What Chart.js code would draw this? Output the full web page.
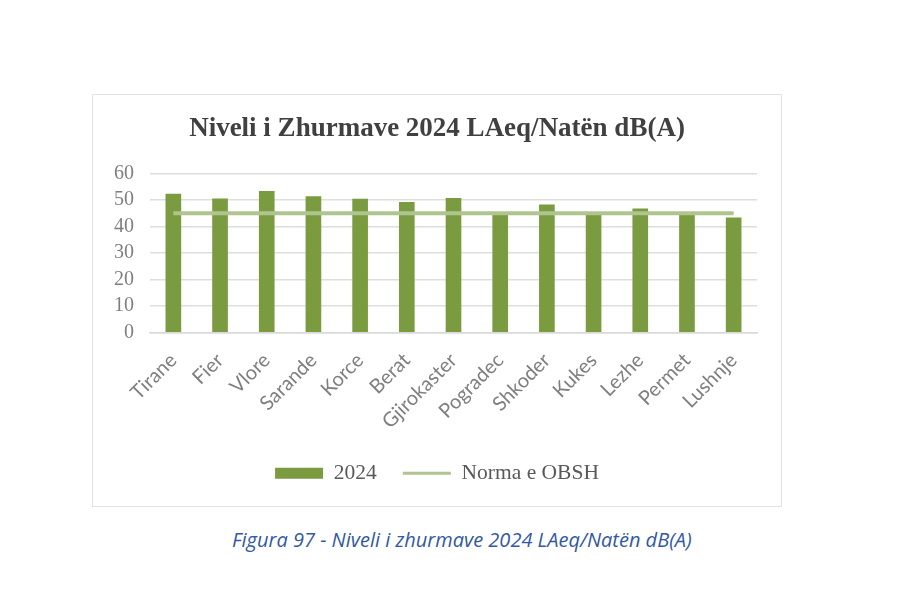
<!DOCTYPE html>
<html>
<head>
<meta charset="utf-8">
<script src="https://cdn.jsdelivr.net/npm/chart.js@4"></script>
<style>
    body { margin: 0; background: #fff; width: 900px; height: 599px; position: relative; overflow: hidden; }
    #box { position: absolute; left: 92px; top: 94px; width: 690px; height: 413px; border: 1px solid #e2e2e2; box-sizing: border-box; }
    #caption { position: absolute; left: 232px; top: 526px; font: italic 20px 'Open Sans', sans-serif; color: #3359a3; white-space: nowrap; }
</style>
</head>
<body>
<div id="box"><canvas id="noiseChart"></canvas></div>
<div id="caption">Figura 97 - Niveli i zhurmave 2024 LAeq/Natën dB(A)</div>

<script>
// --- DATA ---
const cities = ['Tirane', 'Fier', 'Vlore', 'Sarande', 'Korce', 'Berat', 'Gjirokaster',
    'Pogradec', 'Shkoder', 'Kukes', 'Lezhe', 'Permet', 'Lushnje'];
const noise2024 = [52.2, 50.4, 53.2, 51.3, 50.3, 49.1, 50.6, 44.3, 48.1, 44.3, 46.6, 44.3, 43.2];
const normaOBSH = [45, 45, 45, 45, 45, 45, 45, 45, 45, 45, 45, 45, 45];
const yTicks = [0, 10, 20, 30, 40, 50, 60];

const BAR_COLOR = '#7a9b3f';
const LINE_COLOR = '#afc48f';
const SERIF = 'Liberation Serif';

const ctx = document.getElementById('noiseChart');
new Chart(ctx.getContext('2d'), {
    type: 'bar',
    data: {
        labels: cities,
        datasets: [
            {
                type: 'bar',
                label: '2024',
                data: noise2024,
                backgroundColor: BAR_COLOR,
                barThickness: 15,
                order: 2
            },
            {
                type: 'line',
                label: 'Norma e OBSH',
                data: normaOBSH,
                borderColor: LINE_COLOR,
                borderWidth: 4,
                pointRadius: 0,
                fill: false,
                order: 1
            }
        ]
    },
    options: {
        responsive: true,
        maintainAspectRatio: false,
        animation: false,
        layout: { padding: { bottom: 12 } },
        plugins: {
            title: {
                display: true,
                text: 'Niveli i Zhurmave 2024 LAeq/Natën dB(A)',
                color: '#404040',
                font: { family: SERIF, size: 27, weight: 'bold' },
                padding: { top: 18, bottom: 28 }
            },
            legend: {
                position: 'bottom',
                labels: {
                    usePointStyle: true,
                    pointStyleWidth: 48,
                    boxHeight: 11,
                    padding: 26,
                    color: '#595959',
                    font: { family: SERIF, size: 21.5 },
                    generateLabels: () => [
                        { text: '2024', fillStyle: BAR_COLOR, strokeStyle: BAR_COLOR, lineWidth: 0, pointStyle: 'rect', datasetIndex: 0, fontColor: '#595959' },
                        { text: 'Norma e OBSH', fillStyle: LINE_COLOR, strokeStyle: LINE_COLOR, lineWidth: 3, pointStyle: 'line', datasetIndex: 1, fontColor: '#595959' }
                    ]
                }
            },
            tooltip: { enabled: false }
        },
        scales: {
            x: {
                afterFit: (axis) => { axis.height = 104; },
                grid: { display: false },
                border: { color: '#d9d9d9', width: 1.5 },
                ticks: {
                    color: '#7f7f7f',
                    font: { family: 'Lato', size: 20 },
                    minRotation: 45,
                    maxRotation: 45,
                    autoSkip: false,
                    padding: 8
                }
            },
            y: {
                min: 0,
                max: 60,
                afterBuildTicks: (axis) => { axis.ticks = yTicks.map(v => ({ value: v })); },
                afterFit: (axis) => { axis.width = 57; },
                grid: { color: '#dedede', lineWidth: 1.5, drawTicks: false },
                border: { display: false },
                ticks: {
                    color: '#7f7f7f',
                    font: { family: SERIF, size: 20 },
                    autoSkip: false,
                    padding: 16
                }
            },
            // empty right-hand spacer so the plot stops where the original does
            yRight: {
                position: 'right',
                afterFit: (axis) => { axis.width = 24; },
                grid: { display: false },
                border: { display: false },
                ticks: { display: false }
            }
        }
    }
});
</script>
</body>
</html>
